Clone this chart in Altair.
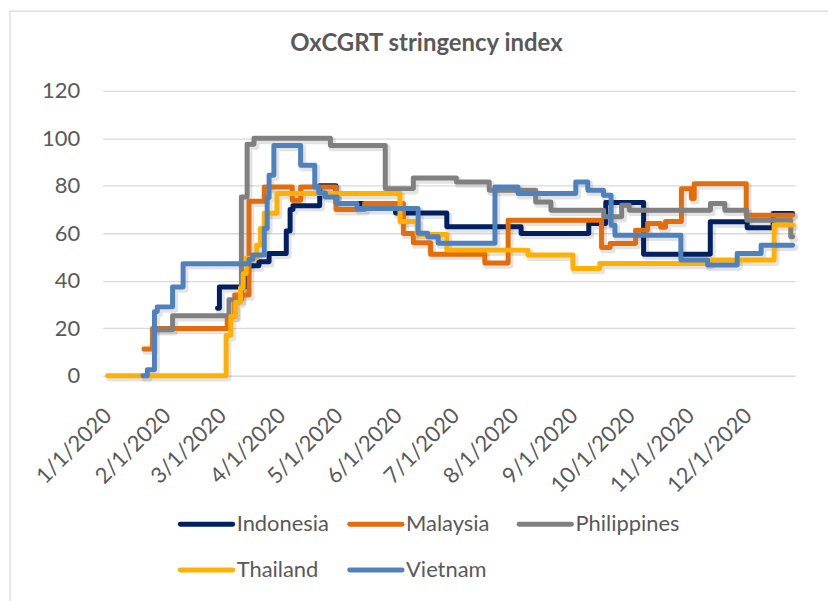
import json
import altair as alt
import pandas as pd

# ---------------- data (day index from 1 Jan 2020, stringency value) ----------------
END_DAY = 358.5

indonesia_days = [57.5, 58.5, 72, 79.2, 84.5, 93.5, 95.5, 97, 111, 119.5, 150.7, 177.5,
                  216.4, 251.8, 260.7, 280.5, 315.4, 334.7, 348.3, END_DAY]
indonesia_vals = [28.4, 37.4, 46.3, 48, 51.5, 61, 70, 71.6, 80, 72.5, 68.5, 62.7,
                  59.9, 64.1, 73, 51.2, 64.8, 62.3, 68.3, 68.3]

malaysia_days = [19, 23.5, 62.6, 66.5, 74, 82, 96.6, 101, 119.5, 134.5, 154.8, 160, 169,
                 197.4, 209.6, 258.5, 263, 276.3, 282.6, 289.4, 292, 300.3, 305.5, 307,
                 334.2, END_DAY]
malaysia_vals = [11.3, 19.9, 25, 34, 73.5, 79.5, 73.9, 79.5, 70, 72.5, 59.9, 56, 51.2,
                 47.5, 65.5, 54, 55.7, 61.3, 64.1, 62.5, 65, 78.8, 74.6, 80.9,
                 67.6, 67.6]

philippines_days = [25.5, 34, 63.5, 70, 73, 76.6, 116.6, 145.3, 160, 182.5, 199.7, 224,
                    232, 259.6, 269, 273, 315.5, 323, 334.5, 357.5, END_DAY]
philippines_vals = [19.4, 25.3, 32, 75.3, 97.5, 100, 97, 78.8, 83.3, 81.6, 78.1, 73.2,
                    69.7, 67, 71.8, 69.7, 72.5, 69.7, 65.5, 58.5, 58.5]

thailand_days = [0, 62, 64.5, 67, 69.5, 71, 72.5, 78, 80, 82, 88.6, 153, 162, 177.5,
                 220, 243.5, 257.6, 315.4, 348.8, END_DAY]
thailand_vals = [0, 17, 25, 31, 37, 43, 49.5, 55, 62, 68.4, 76.7, 65, 59.5, 52.9,
                 50.8, 45.2, 47.3, 48.7, 63.5, 63.5]

vietnam_days = [18.5, 20.8, 24.5, 26, 34, 39.5, 74, 76, 82, 83.5, 84.5, 87, 101, 108.4,
                110.5, 114, 120, 130.5, 162.5, 167.5, 173, 202.7, 214.8, 245, 251.3,
                259.5, 263.5, 265.5, 300, 314, 329.5, 342, END_DAY]
vietnam_vals = [0, 2.5, 27, 29, 37.4, 47.2, 49, 50.8, 62, 75, 84.4, 97, 88.6, 79.5,
                77, 75.3, 72.5, 70.4, 60, 58.5, 55.8, 79.5, 76.7, 81.6, 78.1,
                76, 63.4, 59.2, 48.7, 46.6, 51.5, 55, 55]

countries = ["Indonesia", "Malaysia", "Philippines", "Thailand", "Vietnam"]
colors = ["#002060", "#E46C0A", "#808080", "#FFB000", "#4F81BD"]

month_days = [0, 31, 60, 91, 121, 152, 182, 213, 244, 274, 305, 335]
month_labels = ["1/1/2020", "2/1/2020", "3/1/2020", "4/1/2020", "5/1/2020", "6/1/2020",
                "7/1/2020", "8/1/2020", "9/1/2020", "10/1/2020", "11/1/2020", "12/1/2020"]
y_ticks = [0, 20, 40, 60, 80, 100, 120]
title_text = "OxCGRT stringency index"

series = [
    ("Indonesia", indonesia_days, indonesia_vals),
    ("Malaysia", malaysia_days, malaysia_vals),
    ("Philippines", philippines_days, philippines_vals),
    ("Thailand", thailand_days, thailand_vals),
    ("Vietnam", vietnam_days, vietnam_vals),
]
rows = []
for name, ds, vs in series:
    for d, v in zip(ds, vs):
        rows.append({"country": name, "day": d, "value": v})
df = pd.DataFrame(rows)

FONT = "Lato"
TXT = "#595959"

label_expr = f"{json.dumps(month_labels)}[indexof({json.dumps(month_days)}, datum.value)]"

x_scale = alt.Scale(domain=[-2.6, 359.8], nice=False, zero=False)
y_scale = alt.Scale(domain=[0, 120], nice=False)
color_scale = alt.Scale(domain=countries, range=colors)

x_axis = alt.Axis(values=month_days, labelExpr=label_expr, labelAngle=-45, labelAlign="right",
                  labelBaseline="middle", labelFont=FONT, labelFontSize=22, labelColor=TXT,
                  grid=False, ticks=False, domain=False, title=None, labelPadding=36,
                  labelOverlap=False, labelFlush=False)
y_axis = alt.Axis(values=y_ticks, grid=True, gridColor="#D9D9D9", gridWidth=1.3, domain=False,
                  ticks=False, labelPadding=23, labelFont=FONT, labelFontSize=22,
                  labelColor=TXT, title=None)

shadow = alt.Chart(df).transform_calculate(
    sx="datum.day + 1.0", sy="datum.value - 1.0"
).mark_line(interpolate="step-after", strokeWidth=7, strokeCap="round", strokeJoin="round",
            color="#000000", opacity=0.11).encode(
    x=alt.X("sx:Q", scale=x_scale, axis=None),
    y=alt.Y("sy:Q", scale=y_scale, axis=None),
    detail="country:N",
)

lines = alt.Chart(df).mark_line(interpolate="step-after", strokeWidth=5, strokeCap="round",
                                strokeJoin="round").encode(
    x=alt.X("day:Q", scale=x_scale, axis=x_axis),
    y=alt.Y("value:Q", scale=y_scale, axis=y_axis),
    color=alt.Color("country:N", scale=color_scale, legend=None),
)

# legend drawn from the country list (3 columns x 2 rows)
legend_base = alt.Chart(pd.DataFrame({"country": countries})).transform_window(
    idx="row_number()"
).transform_calculate(
    lx="78 + ((datum.idx - 1) % 3) * 170",
    ly="435 + floor((datum.idx - 1) / 3) * 46",
).transform_calculate(
    lx2="datum.lx + 52.5",
    tx="datum.lx + 56.5",
)
legend_rules = legend_base.mark_rule(strokeWidth=5, strokeCap="round").encode(
    x=alt.X("lx:Q", scale=None, axis=None),
    x2="lx2:Q",
    y=alt.Y("ly:Q", scale=None, axis=None),
    color=alt.Color("country:N", scale=color_scale, legend=None),
)
legend_text = legend_base.mark_text(align="left", baseline="middle", font=FONT, fontSize=22,
                                    fontWeight="normal", color=TXT).encode(
    x=alt.X("tx:Q", scale=None, axis=None),
    y=alt.Y("ly:Q", scale=None, axis=None),
    text="country:N",
)

decor = pd.DataFrame({"k": [1]})
border = alt.Chart(decor).mark_rect(fillOpacity=0, stroke="#D9D9D9", strokeWidth=1.2).encode(
    x=alt.value(-93), y=alt.value(-80), x2=alt.value(760), y2=alt.value(560)
)
title_mark = alt.Chart(decor).mark_text(text=title_text, font=FONT, fontSize=24,
                                        fontWeight="bold", color=TXT, align="center",
                                        baseline="middle").encode(
    x=alt.value(325), y=alt.value(-47)
)

chart = alt.layer(border, title_mark, shadow, lines, legend_rules, legend_text).resolve_scale(
    x="independent", y="independent"
).properties(
    width=695, height=286,
    autosize=alt.AutoSizeParams(type="none"),
    padding={"left": 95, "top": 82, "right": 33, "bottom": 225},
).configure_view(stroke=None)

chart.save("out.html", embed_options={"renderer": "svg", "actions": False})
